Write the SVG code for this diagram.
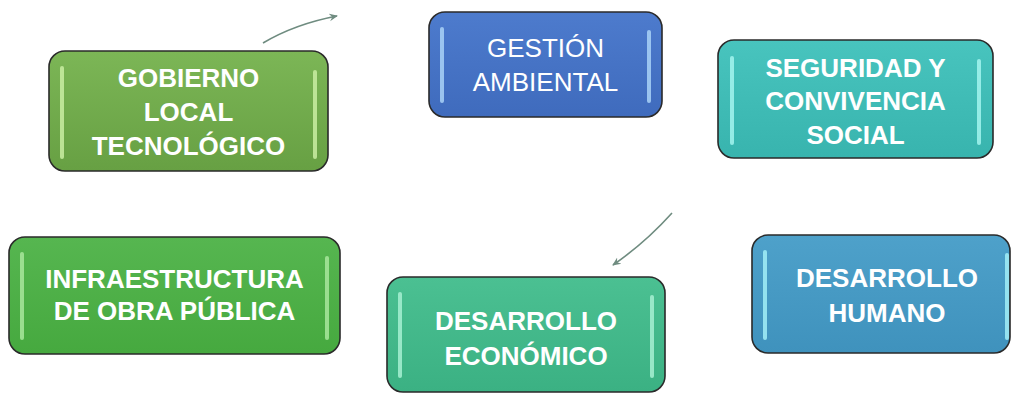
<svg xmlns="http://www.w3.org/2000/svg" width="1012" height="394" viewBox="0 0 1012 394">
<style>
.box{stroke:#2a2a2a;stroke-width:1.6}
.hl{stroke-width:4;stroke-linecap:round;fill:none;opacity:0.85}
.t{font-family:"Liberation Sans",Arial,sans-serif;font-size:26px;fill:#ffffff;text-anchor:middle}
.b{font-weight:bold}
.conn{fill:none;stroke:#6f8c80;stroke-width:1.6}
</style>
<defs>
<linearGradient id="g1" x1="0" y1="0" x2="0" y2="1"><stop offset="0" stop-color="#7cb656"/><stop offset="1" stop-color="#67a043"/></linearGradient>
<linearGradient id="g2" x1="0" y1="0" x2="0" y2="1"><stop offset="0" stop-color="#4d7bcd"/><stop offset="1" stop-color="#3f6bbd"/></linearGradient>
<linearGradient id="g3" x1="0" y1="0" x2="0" y2="1"><stop offset="0" stop-color="#48c4be"/><stop offset="1" stop-color="#38b4ae"/></linearGradient>
<linearGradient id="g4" x1="0" y1="0" x2="0" y2="1"><stop offset="0" stop-color="#56b650"/><stop offset="1" stop-color="#46a93f"/></linearGradient>
<linearGradient id="g5" x1="0" y1="0" x2="0" y2="1"><stop offset="0" stop-color="#4bc092"/><stop offset="1" stop-color="#3bb183"/></linearGradient>
<linearGradient id="g6" x1="0" y1="0" x2="0" y2="1"><stop offset="0" stop-color="#4ea1ca"/><stop offset="1" stop-color="#3f92bd"/></linearGradient>
<marker id="arr" viewBox="0 0 10 10" refX="8" refY="5" markerWidth="6" markerHeight="6" orient="auto-start-reverse"><path d="M0,1 L9,5 L0,9 L3,5 Z" fill="#6f8c80"/></marker>
</defs>
<g id="connectors">
<path class="conn" d="M263,43 Q295,24 337,16" marker-end="url(#arr)"/>
<path class="conn" d="M672,213 Q645,243 613,265" marker-end="url(#arr)"/>
</g>
<g id="gobierno">
<rect class="box" x="49" y="51" width="279" height="120" rx="16" fill="url(#g1)"/>
<line class="hl" stroke="#c9eda2" x1="62" y1="68" x2="62" y2="157"/>
<line class="hl" stroke="#c9eda2" x1="315" y1="72" x2="315" y2="157"/>
<text class="t b" x="188.5" y="87">GOBIERNO</text>
<text class="t b" x="188.5" y="121">LOCAL</text>
<text class="t b" x="188.5" y="155">TECNOLÓGICO</text>
</g>
<g id="gestion">
<rect class="box" x="429" y="12" width="233" height="105" rx="16" fill="url(#g2)"/>
<line class="hl" stroke="#a9d2f7" x1="442" y1="29" x2="442" y2="101"/>
<line class="hl" stroke="#a9d2f7" x1="649" y1="32" x2="649" y2="101"/>
<text class="t" x="545.5" y="57">GESTIÓN</text>
<text class="t" x="545.5" y="91">AMBIENTAL</text>
</g>
<g id="seguridad">
<rect class="box" x="718" y="40" width="275" height="118" rx="16" fill="url(#g3)"/>
<line class="hl" stroke="#a3f4ef" x1="732" y1="58" x2="732" y2="143"/>
<line class="hl" stroke="#a3f4ef" x1="979" y1="61" x2="979" y2="143"/>
<text class="t b" x="855.5" y="77">SEGURIDAD Y</text>
<text class="t b" x="855.5" y="110">CONVIVENCIA</text>
<text class="t b" x="855.5" y="144">SOCIAL</text>
</g>
<g id="infraestructura">
<rect class="box" x="9" y="237" width="331" height="117" rx="16" fill="url(#g4)"/>
<line class="hl" stroke="#a8e69c" x1="22" y1="254" x2="22" y2="338"/>
<line class="hl" stroke="#a8e69c" x1="327" y1="258" x2="327" y2="338"/>
<text class="t b" x="174.5" y="288">INFRAESTRUCTURA</text>
<text class="t b" x="174.5" y="320">DE OBRA PÚBLICA</text>
</g>
<g id="economico">
<rect class="box" x="387" y="277" width="278" height="115" rx="16" fill="url(#g5)"/>
<line class="hl" stroke="#a7f0d2" x1="400" y1="294" x2="400" y2="376"/>
<line class="hl" stroke="#a7f0d2" x1="652" y1="297" x2="652" y2="376"/>
<text class="t b" x="526" y="330">DESARROLLO</text>
<text class="t b" x="526" y="365">ECONÓMICO</text>
</g>
<g id="humano">
<rect class="box" x="752" y="235" width="258" height="118" rx="16" fill="url(#g6)"/>
<line class="hl" stroke="#a2eef7" x1="765" y1="252" x2="765" y2="338"/>
<line class="hl" stroke="#a2eef7" x1="1007" y1="255" x2="1007" y2="338"/>
<text class="t b" x="887" y="287">DESARROLLO</text>
<text class="t b" x="887" y="322">HUMANO</text>
</g>
</svg>
